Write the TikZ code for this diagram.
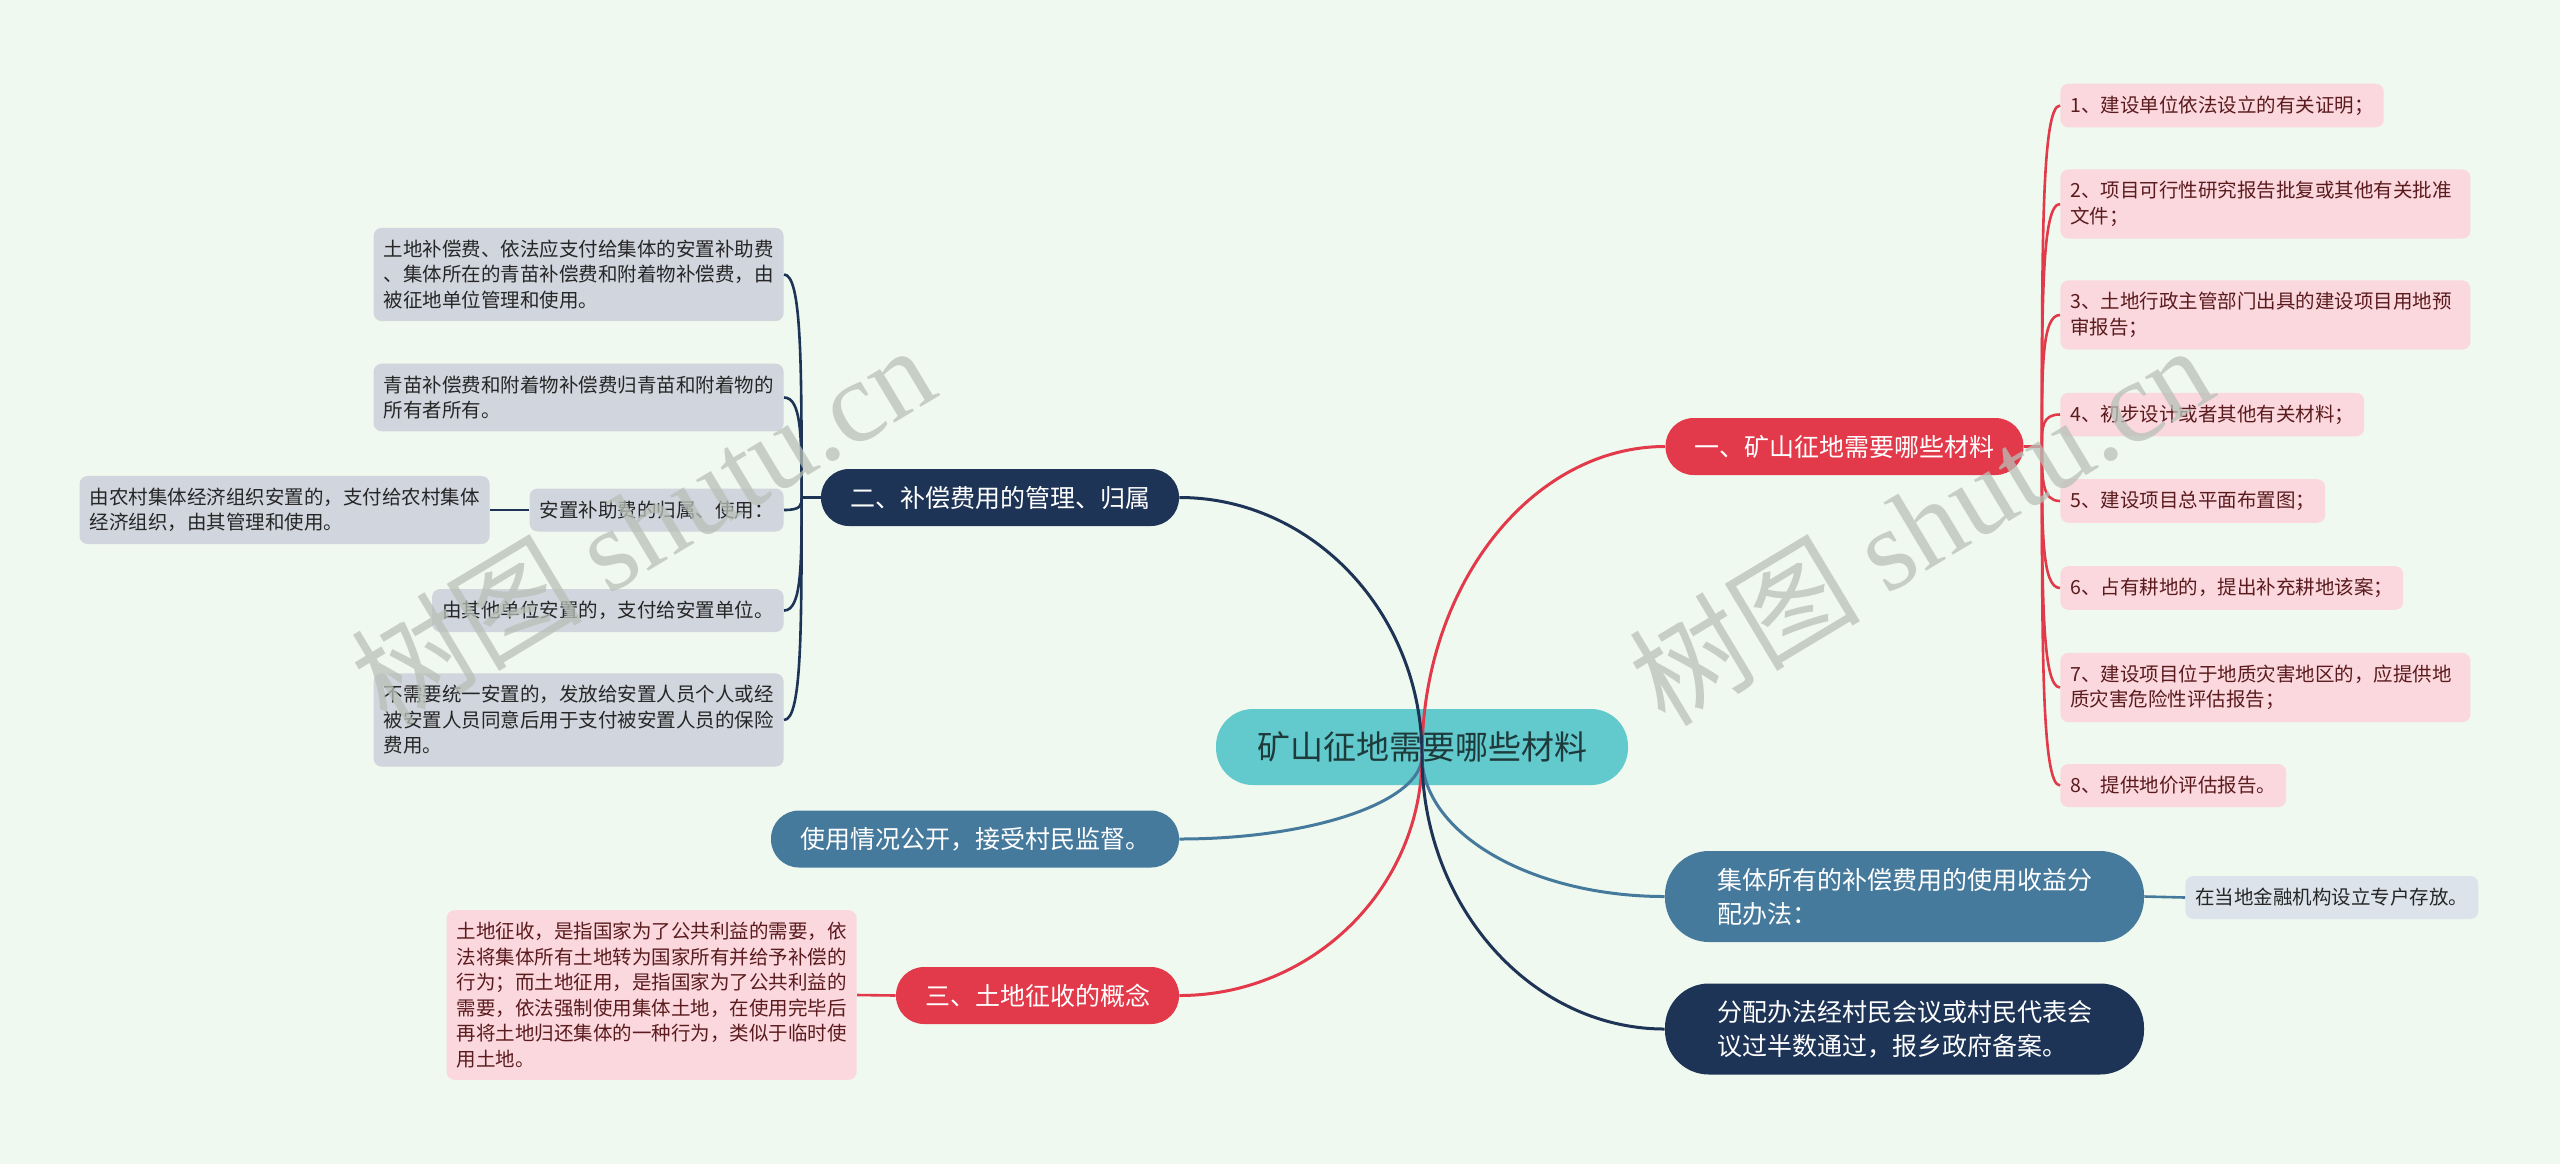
\documentclass[tikz,border=0pt]{standalone}
\usepackage{fontspec}
\setmainfont{Noto Sans CJK SC}
\newfontfamily\wmlatin{Liberation Serif}
\usetikzlibrary{positioning,calc}

\definecolor{bgmint}{HTML}{F0F9EF}
\definecolor{rootteal}{HTML}{62C9CC}
\definecolor{roottext}{HTML}{1E3A3B}
\definecolor{brred}{HTML}{E23A4A}
\definecolor{brnavy}{HTML}{1D3456}
\definecolor{brsteel}{HTML}{467A9D}
\definecolor{leafpink}{HTML}{FAD8DD}
\definecolor{pinktext}{HTML}{5B1B1E}
\definecolor{leafgray}{HTML}{D1D5DD}
\definecolor{leafblue}{HTML}{DCE3EA}
\definecolor{wmgray}{HTML}{B8C0B8}

\begin{document}
\begin{tikzpicture}[x=0.5pt,y=-0.5pt,
  rootnode/.style={rectangle,rounded corners=18.5pt,fill=rootteal,text=roottext,minimum height=38pt,inner xsep=20.5pt,font=\fontsize{16.5pt}{20pt}\selectfont},
  branchnode/.style={rectangle,rounded corners=14pt,text=white,minimum height=28.5pt,inner xsep=14.5pt,font=\fontsize{12.5pt}{17pt}\selectfont},
  bigbranch/.style={branchnode,rounded corners=22pt,minimum height=45.5pt,inner xsep=26pt,align=left},
  leafnode/.style={rectangle,rounded corners=4pt,inner xsep=5pt,inner ysep=6pt,align=left,minimum height=21.5pt,font=\fontsize{9.75pt}{12.75pt}\selectfont},
  pinkleaf/.style={leafnode,fill=leafpink,text=pinktext},
  wideleaf/.style={pinkleaf,text width=195pt},
  grayleaf/.style={leafnode,fill=leafgray,text=black!85},
  blueleaf/.style={leafnode,fill=leafblue,text=black!85},
  mainlink/.style={line width=1.5pt},
  twig/.style={line width=1.3pt},
  watermark/.style={rotate=31,text=wmgray,opacity=0.75,font=\fontsize{58pt}{60pt}\selectfont},
]

\useasboundingbox (0,0) rectangle (2560,1164);
\fill[bgmint] (0,0) rectangle (2560,1164);

% centre
\node[rootnode] (rc) at (1422,747) {矿山征地需要哪些材料};
\coordinate (hub) at (1422,756);

% main branches
\node[branchnode,fill=brred] (b1) at (1844.5,446.5) {一、矿山征地需要哪些材料};
\node[branchnode,fill=brnavy] (b2) at (1000,497.5) {二、补偿费用的管理、归属};
\node[branchnode,fill=brsteel] (b3) at (975,839) {使用情况公开，接受村民监督。};
\node[branchnode,fill=brred] (b4) at (1037.5,995.5) {三、土地征收的概念};
\node[bigbranch,fill=brsteel] (b5) at (1904.5,896.5) {集体所有的补偿费用的使用收益分\\配办法：};
\node[bigbranch,fill=brnavy] (b6) at (1904.5,1029) {分配办法经村民会议或村民代表会\\议过半数通过，报乡政府备案。};

\foreach \b/\a/\c in {b1/west/brred,b2/east/brnavy,b3/east/brsteel,b4/east/brred,b5/west/brsteel,b6/west/brnavy}
  \draw[mainlink,draw=\c] (hub) .. controls ($(hub)!0.55!(hub |- \b.\a)$) and ($(\b.\a)!0.55!(hub |- \b.\a)$) .. (\b.\a);

% materials list
\node[pinkleaf,anchor=west] (r1) at (2060,105.5) {1、建设单位依法设立的有关证明；};
\node[wideleaf,anchor=west] (r2) at (2060,204) {2、项目可行性研究报告批复或其他有关批准\\文件；};
\node[wideleaf,anchor=west] (r3) at (2060,315) {3、土地行政主管部门出具的建设项目用地预\\审报告；};
\node[pinkleaf,anchor=west] (r4) at (2060,414.5) {4、初步设计或者其他有关材料；};
\node[pinkleaf,anchor=west] (r5) at (2060,501) {5、建设项目总平面布置图；};
\node[pinkleaf,anchor=west] (r6) at (2060,588) {6、占有耕地的，提出补充耕地该案；};
\node[wideleaf,anchor=west] (r7) at (2060,687.5) {7、建设项目位于地质灾害地区的，应提供地\\质灾害危险性评估报告；};
\node[pinkleaf,anchor=west] (r8) at (2060,785.5) {8、提供地价评估报告。};

\coordinate (j1) at ($(b1.east)+(18,0)$);
\draw[twig,brred] (b1.east) -- (j1);
\foreach \n in {1,...,8}
  \draw[twig,brred] (j1) .. controls ($(j1)!0.6!(j1 |- r\n.west)$) and (j1 |- r\n.west) .. (r\n.west);

% compensation management
\node[grayleaf,anchor=east] (l1) at (784,274.5) {土地补偿费、依法应支付给集体的安置补助费\\、集体所在的青苗补偿费和附着物补偿费，由\\被征地单位管理和使用。};
\node[grayleaf,anchor=east] (l2) at (784,397.5) {青苗补偿费和附着物补偿费归青苗和附着物的\\所有者所有。};
\node[grayleaf,anchor=east] (l3) at (784,510) {安置补助费的归属、使用：};
\node[grayleaf,anchor=east] (l4) at (784,610.5) {由其他单位安置的，支付给安置单位。};
\node[grayleaf,anchor=east] (l5) at (784,720) {不需要统一安置的，发放给安置人员个人或经\\被安置人员同意后用于支付被安置人员的保险\\费用。};
\node[grayleaf,anchor=east] (l3a) at (490,510) {由农村集体经济组织安置的，支付给农村集体\\经济组织，由其管理和使用。};

\coordinate (j2) at ($(b2.west)+(-19,0)$);
\draw[twig,brnavy] (b2.west) -- (j2);
\foreach \n in {1,...,5}
  \draw[twig,brnavy] (j2) .. controls ($(j2)!0.6!(j2 |- l\n.east)$) and (j2 |- l\n.east) .. (l\n.east);
\draw[twig,brnavy] (l3.west) -- (l3a.east);

% concept of expropriation
\node[pinkleaf,anchor=east] (b4a) at (857,995) {土地征收，是指国家为了公共利益的需要，依\\法将集体所有土地转为国家所有并给予补偿的\\行为；而土地征用，是指国家为了公共利益的\\需要，依法强制使用集体土地，在使用完毕后\\再将土地归还集体的一种行为，类似于临时使\\用土地。};
\draw[twig,brred] (b4.west) -- (b4a.east);

% deposit
\node[blueleaf,anchor=west] (b5a) at (2185,897.5) {在当地金融机构设立专户存放。};
\draw[twig,brsteel] (b5.east) -- (b5a.west);

% watermarks
\node[watermark] (wm1) at (642,524) {树图 {\wmlatin shutu.cn}};
\node[watermark] (wm2) at (1920,524) {树图 {\wmlatin shutu.cn}};

\end{tikzpicture}
\end{document}
